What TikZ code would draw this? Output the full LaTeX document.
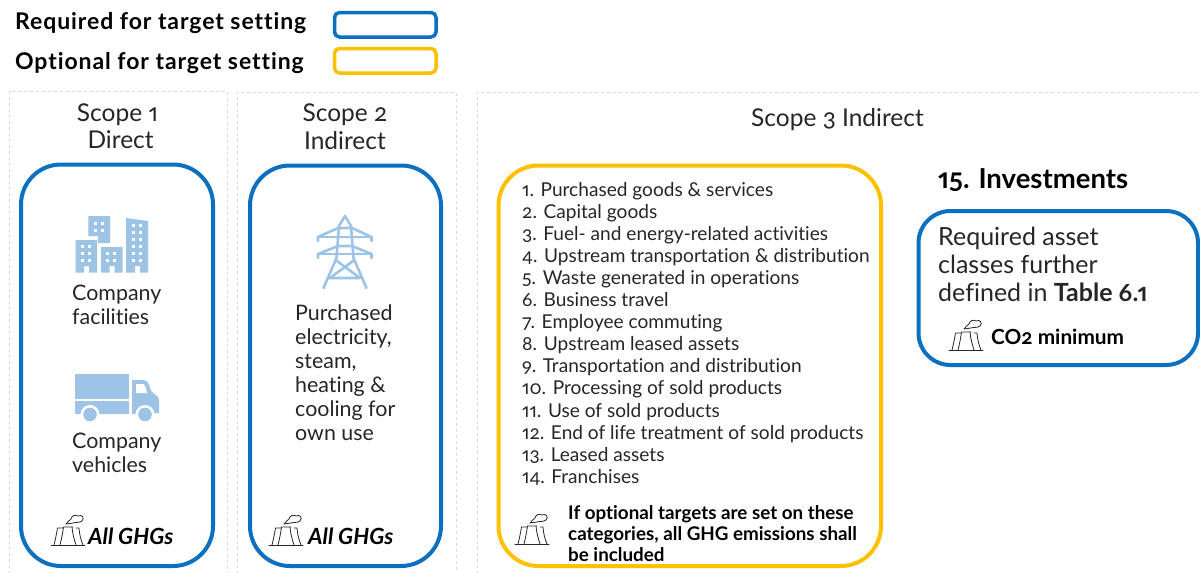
\documentclass[tikz,border=0pt]{standalone}
\usepackage{fontspec}
\setmainfont[Numbers={OldStyle,Proportional},Ligatures=NoCommon]{Lato}
\definecolor{reqblue}{HTML}{0B70C0}
\definecolor{optyellow}{HTML}{FFC000}
\definecolor{iconblue}{HTML}{9DC3E6}
\definecolor{inkgrey}{HTML}{262626}
\definecolor{panelgrey}{HTML}{D9D9D9}
\tikzset{
  panel/.style={draw=panelgrey,dashed,line width=0.6pt,dash pattern=on 3pt off 3pt},
  reqbox/.style={draw=reqblue,line width=4pt},
  optbox/.style={draw=optyellow,line width=4pt},
  legendtext/.style={anchor=base west,inner sep=0pt,font=\fontsize{23}{26}\selectfont\bfseries\addfontfeature{LetterSpace=4},text=black},
  headtext/.style={align=center,inner sep=0pt,font=\fontsize{24.5}{27.5}\selectfont,text=inkgrey},
  bodytext/.style={anchor=north west,inner sep=0pt,align=left,font=\fontsize{21.4}{24}\selectfont,text=inkgrey},
  listtext/.style={anchor=north west,inner sep=0pt,align=left,font=\fontsize{19.1}{22.08}\selectfont,text=inkgrey},
  smalltext/.style={anchor=north west,inner sep=0pt,align=left,font=\fontsize{18.8}{21}\selectfont\bfseries,text=black},
  window/.style={fill=white,draw=none},
}
\newcommand{\factoryicon}[2]{%
  \begin{scope}[shift={(#1,#2)},draw=inkgrey,line width=0.8pt,line join=round,line cap=round]
    \draw (0,0) -- (34,0);
    \draw (3,0) .. controls (5,-8) and (6,-14) .. (6.5,-17) -- (12,-17);
    \draw (9,0) .. controls (11,-8) and (12,-14) .. (12.5,-18) -- (22,-18);
    \draw (21,-18) .. controls (21.5,-12) and (23,-6) .. (25,0);
    \draw (25,-17) -- (28,-17) .. controls (28.5,-10) and (30,-5) .. (32,0);
    \draw (15,-21) .. controls (16,-24) and (19,-24) .. (20,-26) .. controls (20,-29) and (25,-31) .. (27,-29) .. controls (31,-31) and (34,-27) .. (31,-24) .. controls (29,-22) and (24,-23) .. (22,-22) -- (15,-21);
  \end{scope}}
\begin{document}
\begin{tikzpicture}[x=1pt,y=-1pt]
\useasboundingbox (0,0) rectangle (1200,573);
% legend
\node[legendtext] (legendreq) at (15,29) {Required for target setting};
\node[legendtext] (legendopt) at (15,69) {Optional for target setting};
\draw[reqblue,line width=3.5pt,rounded corners=5pt] (334.5,12.5) rectangle (436,37);
\draw[optyellow,line width=3.5pt,rounded corners=5pt] (334.5,48.5) rectangle (436,73);
% panels
\draw[panel] (9,580) -- (9,91) -- (227,91) -- (227,580);
\draw[panel] (237,580) -- (237,92) -- (456,92) -- (456,580);
\draw[panel] (477,580) -- (477,92) -- (1205,92);
% headers
\node[headtext] (scope1) at (117.5,126) {Scope 1\\ \ Direct};
\node[headtext] (scope2) at (345,126.5) {Scope 2\\ Indirect};
\node[headtext] (scope3) at (837.5,120) {Scope 3 Indirect};
% boxes
\draw[reqbox,rounded corners=40pt] (21,164.5) rectangle (213,566);
\draw[reqbox,rounded corners=40pt] (250,165.5) rectangle (441,566);
\draw[optbox,rounded corners=40pt] (498.5,165.5) rectangle (881,566);
\draw[reqbox,rounded corners=32pt] (918.5,211) rectangle (1198,365);
% buildings
\begin{scope}[fill=iconblue,draw=none]
  \fill (88.3,216) -- (110,216) -- (110,243) -- (98,243) -- (98,236) -- (88.3,236) -- cycle;
  \fill (75.5,240) -- (97,240) -- (97,272.5) -- (89,272.5) -- (89,266) -- (84,266) -- (84,272.5) -- (75.5,272.5) -- cycle;
  \fill (101,247) -- (122.5,247) -- (122.5,272.5) -- (114.5,272.5) -- (114.5,266) -- (109.5,266) -- (109.5,272.5) -- (101,272.5) -- cycle;
  \fill (126,218) -- (148,221) -- (148,272.5) -- (140,272.5) -- (140,266) -- (135,266) -- (135,272.5) -- (126,272.5) -- cycle;
\end{scope}
\foreach \wx in {93.5,100.5}\foreach \wy in {222,229}{\fill[window] (\wx,\wy) rectangle +(3,3);}
\foreach \wx in {81,88}\foreach \wy in {245,252,259}{\fill[window] (\wx,\wy) rectangle +(3,3);}
\foreach \wx in {106,113}\foreach \wy in {252,259}{\fill[window] (\wx,\wy) rectangle +(3,3);}
\foreach \wx in {131.5,139}\foreach \wy in {224,231,238,245,252,259}{\fill[window] (\wx,\wy) rectangle +(3,3);}
% truck
\fill[iconblue] (74.5,374) rectangle (128.5,398.5);
\fill[iconblue] (74.5,401) rectangle (128.5,414);
\fill[iconblue] (132,380) -- (143,380) .. controls (147,380) and (149,383) .. (151,391) -- (157,396) .. controls (158.5,397.5) and (159,399) .. (159,401) -- (159,413) -- (132,414) -- cycle;
\fill[white] (136,384) -- (143,384) .. controls (145,384) and (146,388) .. (147,393) -- (136,393) -- cycle;
\fill[white] (90,414.5) circle (9.5);
\fill[white] (145,414.5) circle (9.5);
\fill[iconblue] (90,414.5) circle (6.8);
\fill[iconblue] (145,414.5) circle (6.8);
% tower
\begin{scope}[draw=iconblue,line width=2.6pt,line cap=round,line join=round]
  \draw (323.5,288) -- (336.5,258) -- (339,226) -- (345,216) -- (351,226) -- (353.5,258) -- (366.5,288);
  \draw (318,241) -- (318,237) -- (338,228) -- (352,228) -- (371.5,237) -- (371.5,241);
  \draw (318,258) -- (318,254) -- (338,246) -- (352,246) -- (371.5,254) -- (371.5,258);
  \draw (318,237) -- (371.5,237);
  \draw (318,254) -- (371.5,254);
  \draw (337,261) -- (360,278) -- (328,278);
  \draw (353,261) -- (330,278);
  \draw (360,278) -- (362,278);
\end{scope}
% text
\node[bodytext] (facilities) at (72,284.5) {Company\\facilities};
\node[bodytext] (vehicles) at (72,433) {Company\\vehicles};
\node[bodytext] (electricity) at (295,305) {Purchased\\electricity,\\steam,\\heating \&\\cooling for\\own use};
\node[listtext] (catlist) at (522,182) {1. Purchased goods \& services\\2. Capital goods\\3. Fuel- and energy-related activities\\4. Upstream transportation \& distribution\\5. Waste generated in operations\\6. Business travel\\7. Employee commuting\\8. Upstream leased assets\\9. Transportation and distribution\\10. Processing of sold products\\11. Use of sold products\\12. End of life treatment of sold products\\13. Leased assets\\14. Franchises};
\node[smalltext] (optnote) at (568,505) {If optional targets are set on these\\categories, all GHG emissions shall\\be included};
\node[anchor=base west,inner sep=0pt,font=\fontsize{27.5}{32}\selectfont\bfseries,text=black] (inv) at (938,188) {15. Investments};
\node[anchor=north west,inner sep=0pt,align=left,font=\fontsize{25}{28}\selectfont,text=inkgrey] (asset) at (938,227) {Required asset\\classes further\\defined in \textbf{Table 6.1}};
\node[anchor=base west,inner sep=0pt,font=\fontsize{20.8}{23}\selectfont\bfseries,text=black] (co2) at (991,344) {CO2 minimum};
\node[anchor=base west,inner sep=0pt,font=\fontsize{22.3}{24}\selectfont\bfseries\itshape,text=black] (ghg1) at (88,544) {All GHGs};
\node[anchor=base west,inner sep=0pt,font=\fontsize{22.3}{24}\selectfont\bfseries\itshape,text=black] (ghg2) at (308,544) {All GHGs};
% factory icons
\factoryicon{51}{545}
\factoryicon{269}{545}
\factoryicon{515}{544}
\factoryicon{949}{350}
\end{tikzpicture}
\end{document}
